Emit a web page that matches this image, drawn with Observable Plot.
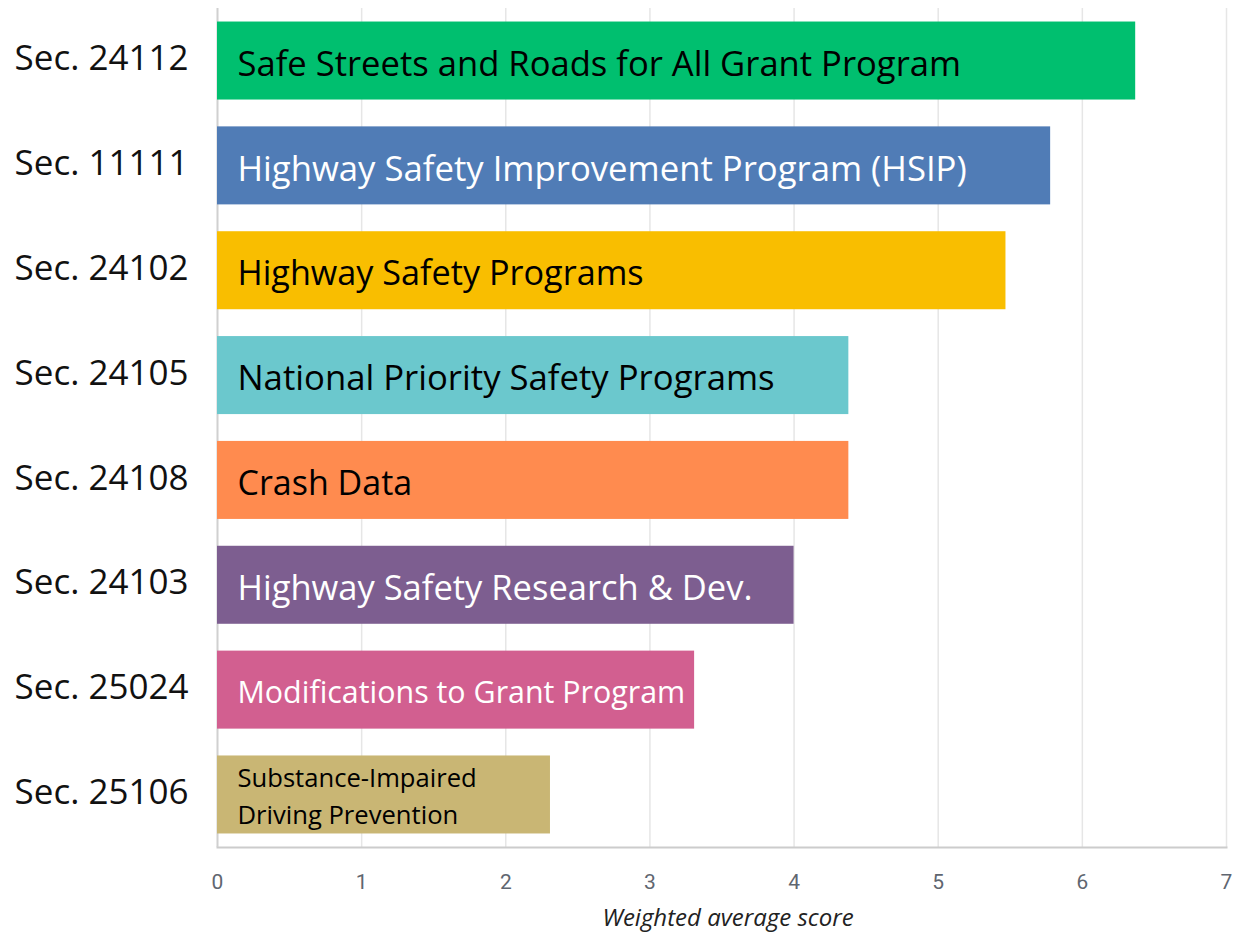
<!DOCTYPE html>
<html><head><meta charset="utf-8">
<script src="https://cdn.jsdelivr.net/npm/d3@7"></script>
<script src="https://cdn.jsdelivr.net/npm/@observablehq/plot@0.6"></script>
<style>body{margin:0;background:#fff}</style>
</head><body><div id="chart"></div>
<script>
const sections = ["Sec. 24112","Sec. 11111","Sec. 24102","Sec. 24105","Sec. 24108","Sec. 24103","Sec. 25024","Sec. 25106"];
const programs = [
  "Safe Streets and Roads for All Grant Program",
  "Highway Safety Improvement Program (HSIP)",
  "Highway Safety Programs",
  "National Priority Safety Programs",
  "Crash Data",
  "Highway Safety Research & Dev.",
  "Modifications to Grant Program",
  "Substance-Impaired\nDriving Prevention"
];
const scores = [6.37, 5.78, 5.47, 4.38, 4.38, 4.00, 3.31, 2.31];
const xTicks = [0,1,2,3,4,5,6,7];
const barColors = ["#00bf6f","#507cb6","#f9be00","#6bc8cd","#ff8b4f","#7d5e90","#d25f90","#c9b674"];
const labelColors = ["#000000","#ffffff","#000000","#000000","#000000","#ffffff","#ffffff","#000000"];
const labelSizes = [34.6,34.7,34.2,34.7,34,34.5,30.4,25.6];

const data = sections.map((s,i)=>({section:s, program:programs[i], score:scores[i], color:barColors[i], textColor:labelColors[i], size:labelSizes[i]}));

const chart = Plot.plot({
  width:1237, height:935,
  marginLeft:217, marginRight:11, marginTop:8, marginBottom:88,
  x:{domain:[0,7]},
  y:{domain:sections, paddingInner:0.256, paddingOuter:0.129, round:false},
  color:{type:"identity"},
  style:{fontFamily:"'Open Sans', sans-serif", background:"#fff"},
  marks:[
    Plot.gridX(xTicks.slice(1), {stroke:"#e6e6e6", strokeOpacity:1, strokeWidth:1.5}),
    Plot.frame({anchor:"bottom", stroke:"#cccccc", strokeWidth:2}),
    Plot.ruleX([0], {stroke:"#d0d0d0", strokeWidth:2}),
    Plot.barX(data, {y:"section", x:"score", fill:"color"}),
    Plot.text(data, {y:"section", x:0, text:"program", dx:20, dy:-1, textAnchor:"start", fill:"textColor", fontSize:"size", lineHeight:1.42}),
    Plot.axisY({tickSize:0, tickPadding:29, fontSize:35, fill:"#111", label:null, dy:-2}),
    Plot.axisX(xTicks, {tickSize:0, tickPadding:27, fontSize:21, fontFamily:"Roboto, sans-serif", fill:"#5f6670", label:null, tickFormat:"d"}),
    Plot.text(["Weighted average score"], {frameAnchor:"bottom", dy:78, dx:6, fontStyle:"italic", fontSize:24, fill:"#222"})
  ]
});
document.getElementById("chart").appendChild(chart);
</script>
</body></html>
